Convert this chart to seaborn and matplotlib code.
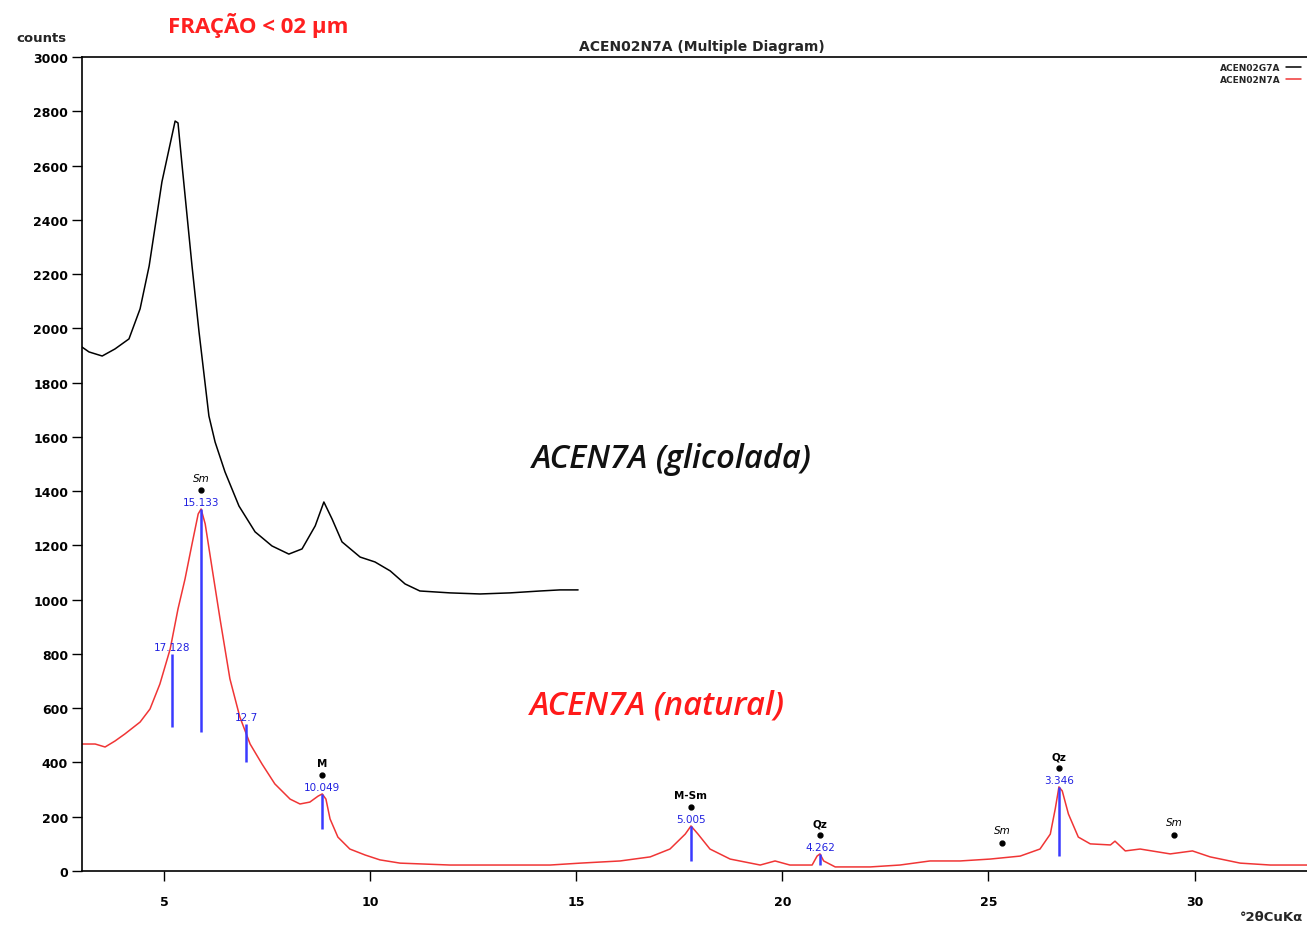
import numpy as np
import pandas as pd
import matplotlib
matplotlib.use("Agg")
import matplotlib.pyplot as plt
import seaborn as sns
from matplotlib.ticker import MultipleLocator
from matplotlib.transforms import offset_copy

# ---- data ----
glic_x = [3.0, 3.17, 3.49, 3.80, 4.14, 4.41, 4.63, 4.94, 5.14, 5.26, 5.33, 5.43, 5.67, 5.84,
          6.08, 6.23, 6.47, 6.81, 7.20, 7.61, 8.02, 8.34, 8.66, 8.87, 9.07, 9.31,
          9.75, 10.11, 10.48, 10.84, 11.2, 11.93, 12.66, 13.39, 14.12, 14.6, 15.04]
glic_y = [1931, 1913, 1898, 1924, 1961, 2072, 2230, 2540, 2680, 2764, 2757, 2599, 2230, 1987,
          1677, 1581, 1471, 1345, 1250, 1198, 1168, 1187, 1272, 1360, 1297, 1213,
          1157, 1139, 1106, 1058, 1032, 1025, 1021, 1025, 1032, 1036, 1036]

nat_x = [3.0, 3.32, 3.56, 3.8, 4.04, 4.41, 4.65, 4.89, 5.14, 5.33, 5.5, 5.67, 5.82, 5.89,
         5.99, 6.16, 6.35, 6.59, 6.83, 7.08, 7.37, 7.68, 8.05, 8.29, 8.53, 8.73, 8.83, 8.92,
         9.02, 9.21, 9.5, 9.87, 10.23, 10.72, 11.93, 13.15, 14.36, 15.09, 16.06, 16.79, 17.27,
         17.64, 17.78, 17.95, 18.24, 18.73, 19.46, 19.82, 20.18, 20.72, 20.84, 20.91, 21.0,
         21.28, 22.13, 22.85, 23.58, 24.31, 25.04, 25.77, 26.25, 26.5, 26.62, 26.71, 26.79,
         26.94, 27.18, 27.47, 27.96, 28.07, 28.32, 28.68, 29.41, 29.95, 30.38, 31.11, 31.84, 32.73]
nat_y = [468, 468, 457, 479, 505, 549, 597, 689, 818, 966, 1076, 1205, 1316, 1334,
         1279, 1113, 929, 708, 568, 468, 394, 321, 265, 247, 254, 276, 284, 265,
         192, 125, 81, 59, 41, 29, 22, 22, 22, 29, 37, 52, 81,
         136, 166, 136, 81, 44, 22, 37, 22, 22, 55, 63, 37,
         15, 15, 22, 37, 37, 44, 55, 81, 136, 229, 310, 295,
         210, 125, 100, 96, 110, 74, 81, 63, 74, 52, 29, 22, 22]

peak_x = [5.89, 5.18, 6.98, 8.83, 17.78, 20.91, 26.71]
peak_top = [1334, 800, 542, 284, 166, 63, 310]
peak_bottom = [512, 531, 402, 155, 37, 22, 55]
peak_d = ["15.133", "17.128", "12.7", "10.049", "5.005", "4.262", "3.346"]
peak_phase = ["Sm", "", "", "M", "M-Sm", "Qz", "Qz"]

extra_x = [25.33, 29.5]
extra_y = [103, 133]
extra_phase = ["Sm", "Sm"]

x_ticks = [5, 10, 15, 20, 25, 30]
y_ticks = list(range(0, 3001, 200))

# ---- figure ----
sns.set_style("white")
plt.rcParams['font.family'] = ['DejaVu Sans']

fig = plt.figure(figsize=(13.07, 9.28), dpi=100)
ax = fig.add_axes([82/1307, 1-872/928, 1-82/1307, (872-58)/928])

df_g = pd.DataFrame({"x": glic_x, "y": glic_y})
df_n = pd.DataFrame({"x": nat_x, "y": nat_y})
sns.lineplot(data=df_g, x="x", y="y", color="black", lw=1.1, ax=ax, label="ACEN02G7A")
sns.lineplot(data=df_n, x="x", y="y", color="#f03535", lw=1.1, ax=ax, label="ACEN02N7A")

ax.set_xlim(3, 32.73)
ax.set_ylim(0, 3000)
ax.set_xlabel("")
ax.set_ylabel("")

for s in ["left", "bottom", "top"]:
    ax.spines[s].set_color("black")
    ax.spines[s].set_linewidth(1.2)
ax.spines["right"].set_visible(False)

ax.set_xticks(x_ticks)
ax.set_yticks(y_ticks)
ax.xaxis.set_minor_locator(MultipleLocator(1))
ax.yaxis.set_minor_locator(MultipleLocator(20))
ax.tick_params(axis="both", which="major", direction="out", length=7, width=1,
               labelsize=9, colors="black")
ax.tick_params(axis="both", which="minor", direction="out", length=4, width=0.8)
ax.tick_params(axis="x", pad=10)
ax.tick_params(axis="y", pad=3)
ax.tick_params(left=True, bottom=True)
for lab in ax.get_xticklabels() + ax.get_yticklabels():
    lab.set_fontweight("bold")

# peak markers
ax.vlines(peak_x, peak_bottom, peak_top, color="#3a3aff", lw=1.8, zorder=3)
tr_d = offset_copy(ax.transData, fig=fig, y=5, units="points")
tr_dot = offset_copy(ax.transData, fig=fig, y=13.5, units="points")
tr_ph = offset_copy(ax.transData, fig=fig, y=22, units="points")
for xv, yt, d, ph in zip(peak_x, peak_top, peak_d, peak_phase):
    ax.text(xv, yt, d, transform=tr_d, ha="center", va="center", color="#2020e0",
            fontsize=7.5)
    if ph:
        ax.plot([xv], [yt], "o", color="black", ms=3.5, transform=tr_dot)
        ax.text(xv, yt, ph, transform=tr_ph, ha="center", va="center", color="black",
                fontsize=7.5, style="italic" if ph == "Sm" else "normal",
                fontweight="bold" if ph != "Sm" else "normal")
tr_ex = offset_copy(ax.transData, fig=fig, y=9.5, units="points")
for xv, yv, ph in zip(extra_x, extra_y, extra_phase):
    ax.plot([xv], [yv], "o", color="black", ms=3.5)
    ax.text(xv, yv, ph, transform=tr_ex, ha="center", va="center", color="black",
            fontsize=7.5, style="italic")

# big labels
fig.text(672/1307, 1-460/928, "ACEN7A (glicolada)", ha="center",
         va="center", fontsize=23.5, style="italic", fontweight="semibold",
         color="#111111", family="Open Sans")
fig.text(657/1307, 1-706/928, "ACEN7A (natural)", ha="center",
         va="center", fontsize=23.5, style="italic", fontweight="semibold",
         color="#ff1a1a", family="Open Sans")

# legend
leg = ax.legend(loc="upper right", frameon=False, fontsize=6.5, markerfirst=False,
                handlelength=1.6, handletextpad=0.6, borderaxespad=0.3,
                labelspacing=0.35)
for t in leg.get_texts():
    t.set_fontweight("bold")

# header texts
fig.text(258/1307, 1-26/928, "FRAÇÃO < 02 µm", ha="center", va="center", color="#ff2020",
         fontsize=16, family="Open Sans", fontweight="bold")
fig.text(41/1307, 1-38/928, "counts", ha="center", va="center", fontsize=9.5,
         fontweight="bold")
fig.text(702/1307, 1-47/928, "ACEN02N7A (Multiple Diagram)", ha="center", va="center",
         fontsize=10, fontweight="bold")
fig.text(1240/1307, 1-918/928, "°2θCuKα", ha="left", va="center", fontsize=9.5,
         fontweight="bold")

fig.savefig("out.png", dpi=100, facecolor="white")
